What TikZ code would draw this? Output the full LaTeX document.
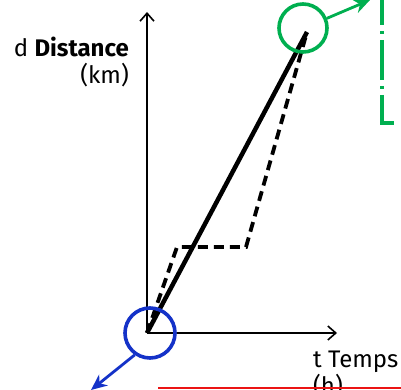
\documentclass[tikz,border=0pt]{standalone}
\usepackage{fontspec}
\setmainfont{Fira Sans}
\usetikzlibrary{arrows.meta}
\definecolor{arrgreen}{RGB}{0,175,80}
\definecolor{depblue}{RGB}{20,50,200}
\definecolor{limred}{RGB}{235,20,20}
\begin{document}
\begin{tikzpicture}[x=1pt,y=-1pt,
  axis/.style={line width=1.6pt, -{Straight Barb[length=8pt,width=14pt,line width=1.6pt]}},
  ring/.style={circle, draw, line width=3.6pt, inner sep=0pt},
  pointer/.style={line width=2.8pt, -{Stealth[length=16pt,width=14pt]}},
  lbl/.style={font=\fontsize{24}{27}\selectfont, inner sep=0pt}]
\useasboundingbox (0,0) rectangle (401,390);
\clip (0,0) rectangle (401,390);

\coordinate (O) at (147,333);
\coordinate (ytop) at (147,12);
\coordinate (xend) at (337,333);
\coordinate (A) at (307,32);
\coordinate (B) at (177,247);
\coordinate (C) at (246,247);

\draw[axis] (O) -- (ytop);
\draw[axis] (O) -- (xend);

\draw[line width=3.8pt, dash pattern=on 10pt off 6pt] (O) -- (B) -- (C) -- (A);
\draw[line width=4.5pt] (O) -- (A);

\node[ring, draw=arrgreen, minimum size=48pt] (arr) at (303,28) {};
\node[ring, draw=depblue, minimum size=50pt] (dep) at (150,333) {};

\coordinate (gtip) at (370,0);
\coordinate (btip) at (91,390);
\draw[pointer, arrgreen] (arr.22) -- (gtip);
\draw[pointer, depblue] (dep.235) -- (btip);

\coordinate (g1) at (382,-2);
\coordinate (g2) at (382,123);
\coordinate (g3) at (396,123);
\draw[arrgreen, line width=3.6pt, dash pattern=on 40pt off 6pt on 3pt off 6pt, dash phase=13pt] (g1) -- (g2) -- (g3);

\node[lbl, align=right, anchor=north east] (dlbl) at (129,37) {d {\bfseries Distance}\\(km)};
\node[lbl, align=left, anchor=north west] (tlbl) at (313,351) {t Temps\\(h)};

\coordinate (r1) at (158,388);
\coordinate (r2) at (402,388);
\draw[limred, line width=2.2pt] (r1) -- (r2);
\end{tikzpicture}
\end{document}
